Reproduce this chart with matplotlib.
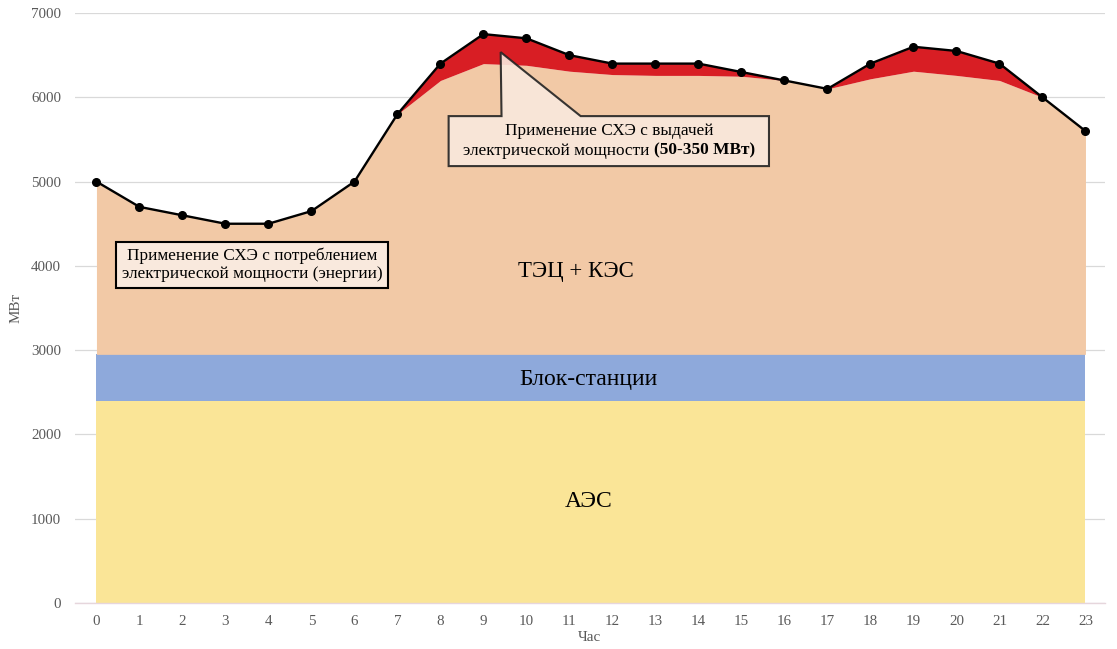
"""
Суточный график нагрузки и покрытие его станциями (СХЭ).
"""
import numpy as np
import matplotlib.pyplot as plt
from matplotlib.patches import Polygon

plt.rcParams['font.family'] = ['Liberation Serif', 'DejaVu Serif']

# DATA
hours = list(range(24))
load = [5000, 4700, 4600, 4500, 4500, 4650, 5000, 5800, 6400, 6750, 6700, 6500,
        6400, 6400, 6400, 6300, 6200, 6100, 6400, 6600, 6550, 6400, 6000, 5600]
tes_kes_top = [5000, 4700, 4600, 4500, 4500, 4650, 5000, 5800, 6200, 6400, 6380, 6310,
               6270, 6260, 6260, 6250, 6200, 6100, 6220, 6310, 6260, 6200, 6000, 5600]
aes = [2400] * 24
block_top = [2950] * 24
layer_labels = ['АЭС', 'Блок-станции', 'ТЭЦ + КЭС']

# COLOURS
c_aes = '#FAE597'
c_block = '#8EA9DB'
c_tes = '#F2C9A6'
c_red = '#D81E24'
c_grey = '#595959'
c_box = '#F9E9DD'

fig = plt.figure(figsize=(11.17, 6.49), dpi=100)
ax = fig.add_axes([0.0671, 0.0709, 0.922, 0.909])

x = np.array(hours)
ax.fill_between(x, 0, aes, color=c_aes, lw=0, zorder=2)
ax.fill_between(x, aes, block_top, color=c_block, lw=0, zorder=2)
ax.fill_between(x, block_top, tes_kes_top, color=c_tes, lw=0, zorder=2)
ax.fill_between(x, tes_kes_top, load, color=c_red, lw=0, zorder=2)
ax.plot(x, load, color='black', lw=1.7, marker='o', ms=5.5, zorder=4)

# layer names
ax.text(11.45, 1200, layer_labels[0], ha='center', va='center', fontsize=17, zorder=5)
ax.text(11.45, 2650, layer_labels[1], ha='center', va='center', fontsize=17, zorder=5)
ax.text(11.15, 3930, layer_labels[2], ha='center', va='center', fontsize=16.5, zorder=5)

# box 1
ax.text(3.62, 4010, 'Применение СХЭ с потреблением\nэлектрической мощности (энергии)',
        ha='center', va='center', fontsize=12.4, linespacing=1.15, zorder=6,
        bbox=dict(boxstyle='square,pad=0.35', fc=c_box, ec='black', lw=1.5))

# box 2 with callout
callout = Polygon([(8.19, 5184), (8.19, 5777), (9.42, 5777), (9.40, 6536),
                   (11.26, 5777), (15.64, 5777), (15.64, 5184)],
                  closed=True, fc=c_box, ec='#222222', lw=1.5, alpha=0.9, zorder=6)
ax.add_patch(callout)
ax.text(11.93, 5600, 'Применение СХЭ с выдачей', ha='center', va='center',
        fontsize=12.4, zorder=7)
ax.text(12.85, 5365, 'электрической мощности', ha='right', va='center',
        fontsize=12.4, zorder=7)
ax.text(12.97, 5365, '(50-350 МВт)', ha='left', va='center',
        fontsize=12.4, fontweight='bold', zorder=7)

# axes styling
ax.set_xlim(-0.5, 23.45)
ax.set_ylim(0, 7000)
ax.set_xticks(hours)
ax.set_yticks(range(0, 7001, 1000))
ax.grid(axis='y', color='#D9D9D9', lw=0.9, zorder=0)
ax.set_axisbelow(True)
for s in ['top', 'right', 'left']:
    ax.spines[s].set_visible(False)
ax.spines['bottom'].set_color('#E6D6DC')
ax.spines['bottom'].set_linewidth(1.0)
ax.spines['bottom'].set_zorder(3)
ax.tick_params(axis='both', length=0, labelsize=10.8, labelcolor=c_grey, pad=10)
ax.tick_params(axis='x', pad=9)
ax.set_xlabel('Час', fontsize=10.8, color=c_grey, labelpad=2)
ax.set_ylabel('МВт', fontsize=10.8, color=c_grey, labelpad=6)

fig.savefig('out.png', dpi=100)
